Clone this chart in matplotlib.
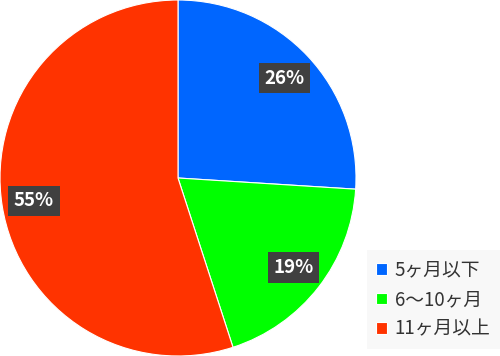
import matplotlib
matplotlib.use("Agg")
import matplotlib.pyplot as plt

categories = ["5ヶ月以下", "6〜10ヶ月", "11ヶ月以上"]
values = [26, 19, 55]
colors = ["#0066ff", "#00ff00", "#ff3300"]

plt.rcParams['font.family'] = ['Noto Sans CJK JP', 'DejaVu Sans']

fig = plt.figure(figsize=(5.0, 3.56), dpi=100)
ax = fig.add_axes([0.0, 0.0, 0.712, 1.0])
wedges, texts, autotexts = ax.pie(values, colors=colors, startangle=90, counterclock=False,
                                  autopct=lambda p: f"{p:.0f}%", pctdistance=0.82,
                                  radius=1.0,
                                  wedgeprops=dict(edgecolor="white", linewidth=0.8))
for t in autotexts:
    t.set_color("white")
    t.set_fontweight("bold")
    t.set_fontsize(13.5)
    t.set_bbox(dict(boxstyle="square,pad=0.3", facecolor="#404040", edgecolor="none"))
ax.set_xlim(-1.0, 1.0)
ax.set_ylim(-1.0, 1.0)
ax.set_aspect("equal")

leg = fig.legend(wedges, categories, loc="lower right", bbox_to_anchor=(1.0, 0.02),
                 frameon=True, fontsize=13.5, handlelength=0.6, handleheight=0.6,
                 labelspacing=0.45, handletextpad=0.4, borderpad=0.5, borderaxespad=0.0,
                 labelcolor="#333333")
leg.get_frame().set_facecolor("#f7f7f7")
leg.get_frame().set_edgecolor("none")
leg.get_frame().set_boxstyle("square", pad=0)
fig.savefig("out.png", dpi=100)
